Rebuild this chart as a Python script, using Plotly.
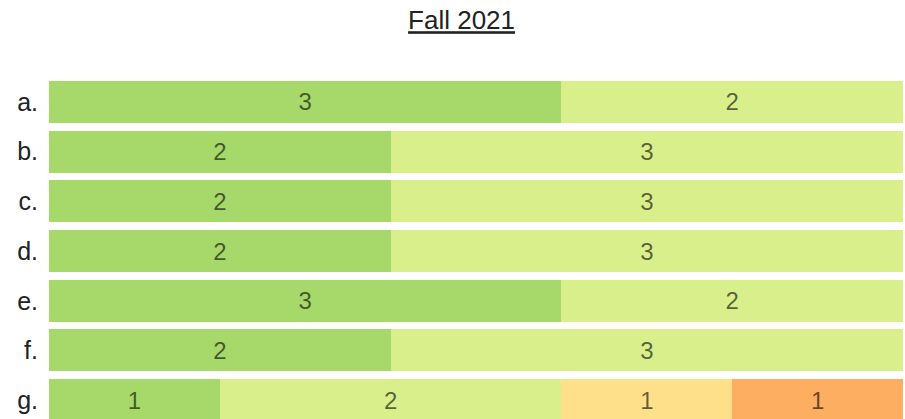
import plotly.graph_objects as go

categories = ["a.", "b.", "c.", "d.", "e.", "f.", "g."]
s1 = [3, 2, 2, 2, 3, 2, 1]
s2 = [2, 3, 3, 3, 2, 3, 2]
s3 = [0, 0, 0, 0, 0, 0, 1]
s4 = [0, 0, 0, 0, 0, 0, 1]
series = [s1, s2, s3, s4]
colors = ["#a6d96a", "#d9ef8b", "#fee08b", "#fdae61"]

FONT = "Liberation Sans, Arial, sans-serif"

fig = go.Figure()
for vals, col in zip(series, colors):
    fig.add_trace(go.Bar(
        y=categories, x=vals, orientation="h",
        marker=dict(color=col, line=dict(width=0)),
        text=[str(v) if v else "" for v in vals],
        textposition="inside", insidetextanchor="middle",
        textfont=dict(size=24, color="rgba(0,0,0,0.6)", family=FONT),
        hoverinfo="skip", showlegend=False,
    ))

fig.update_layout(
    barmode="stack", bargap=0.155,
    width=905, height=419, autosize=False,
    margin=dict(l=49, r=2, t=77, b=0, autoexpand=False),
    paper_bgcolor="white", plot_bgcolor="white",
    title=dict(text="<u>Fall 2021</u>", x=0.51, xanchor="center", y=0.952, yanchor="middle",
               font=dict(size=26, color="#222222", family=FONT)),
    font=dict(family=FONT),
    uniformtext=dict(minsize=8, mode="show"),
)
fig.update_xaxes(range=[0, 5], visible=False, fixedrange=True, automargin=False)
fig.update_yaxes(type="category", categoryorder="array", categoryarray=categories,
                 range=[6.378, -0.5], showgrid=False, zeroline=False, showline=False,
                 ticks="", ticklabelstandoff=10, automargin=False,
                 tickfont=dict(size=25, color="#222222", family=FONT))

fig.write_html("out.html", config={"responsive": False, "displayModeBar": False})

with open("out.html", "r", encoding="utf-8") as f:
    html = f.read()
html = html.replace("<body>", '<body style="margin:0;padding:0;overflow:hidden">', 1)
with open("out.html", "w", encoding="utf-8") as f:
    f.write(html)
